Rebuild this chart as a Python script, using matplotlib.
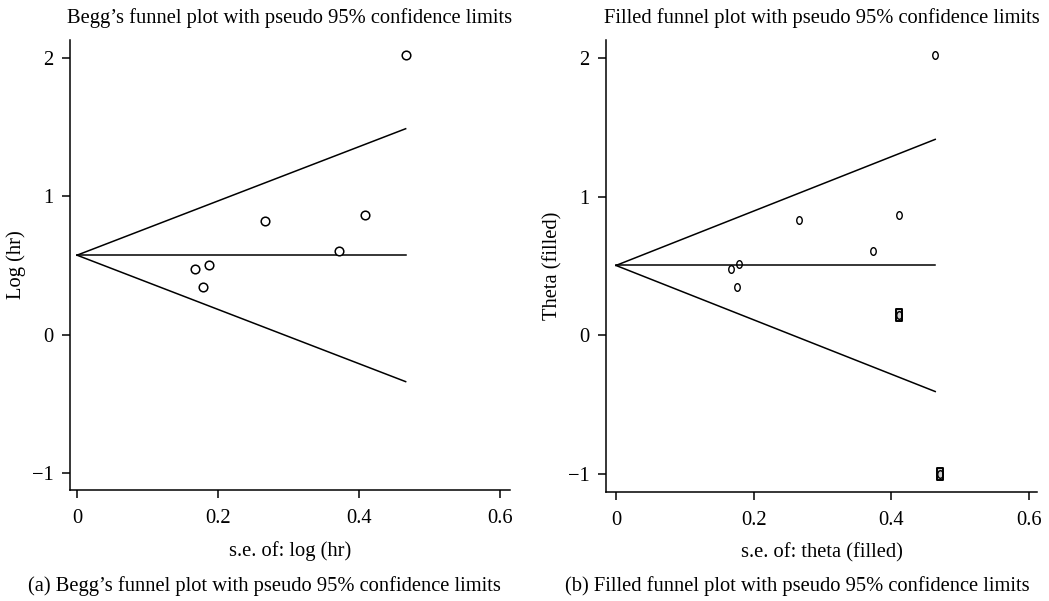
import numpy as np
import matplotlib
matplotlib.use("Agg")
import matplotlib.pyplot as plt
from matplotlib.path import Path
from matplotlib.transforms import Affine2D

# ── Study data ─────────────────────────────────────────────────────────────
# Begg's plot: standard error vs log hazard ratio for each study
se_begg = [0.167, 0.178, 0.187, 0.266, 0.371, 0.408, 0.466]
loghr_begg = [0.479, 0.347, 0.504, 0.824, 0.605, 0.866, 2.025]
pooled_begg = 0.576

# Trim-and-fill: observed studies plus the two imputed ones
se_obs = [0.167, 0.176, 0.179, 0.266, 0.374, 0.411, 0.464]
theta_obs = [0.477, 0.350, 0.518, 0.832, 0.606, 0.868, 2.025]
se_fill = [0.412, 0.471]
theta_fill = [0.145, -1.0]
pooled_fill = 0.504

Z95 = 1.96
FS = 14.8

plt.rcParams["font.family"] = ["Liberation Serif", "DejaVu Serif"]
plt.rcParams["font.size"] = FS

# Small upright "o" marker and a tall box marker for the filled studies
oval = Path.unit_circle().transformed(Affine2D().scale(0.72, 1.0))
box = Path([(-0.62, -1), (0.62, -1), (0.62, 1), (-0.62, 1), (-0.62, -1)],
           [Path.MOVETO, Path.LINETO, Path.LINETO, Path.LINETO, Path.CLOSEPOLY])

fig = plt.figure(figsize=(10.49, 6.01), dpi=100)
ax1 = fig.add_axes([0.0667, 0.1847, 0.4195, 0.7487])
ax2 = fig.add_axes([0.5777, 0.1814, 0.4109, 0.7520])


def funnel(ax, pooled, se_max):
    """Pseudo 95% limits and the pooled estimate line."""
    ax.plot([0, se_max], [pooled, pooled + Z95 * se_max], color="black", lw=1.1)
    ax.plot([0, se_max], [pooled, pooled - Z95 * se_max], color="black", lw=1.1)
    ax.plot([0, se_max], [pooled, pooled], color="black", lw=1.1)


def style(ax, xlim, ylim, xlabel, ylabel, title):
    for side in ("top", "right"):
        ax.spines[side].set_visible(False)
    for side in ("left", "bottom"):
        ax.spines[side].set_linewidth(1.1)
    ax.set_xlim(*xlim)
    ax.set_ylim(*ylim)
    ax.set_xticks([0, 0.2, 0.4, 0.6])
    ax.set_xticklabels(["0", "0.2", "0.4", "0.6"])
    ax.set_yticks([-1, 0, 1, 2])
    ax.tick_params(direction="out", length=6, width=1.1, pad=6)
    ax.tick_params(axis="x", pad=8)
    ax.set_xlabel(xlabel, labelpad=9)
    ax.set_ylabel(ylabel, labelpad=4)
    ax.set_title(title, pad=12, fontsize=FS)


# (a) Begg's funnel plot
funnel(ax1, pooled_begg, max(se_begg))
ax1.plot(se_begg, loghr_begg, linestyle="none", marker="o", markersize=6.2,
         markerfacecolor="white", markeredgecolor="black", markeredgewidth=1.1)
style(ax1, (-0.010, 0.614), (-1.12, 2.13), "s.e. of: log (hr)", "Log (hr)",
      "Begg\u2019s funnel plot with pseudo 95% confidence limits")

# (b) Filled funnel plot
funnel(ax2, pooled_fill, max(se_obs))
ax2.plot(se_fill, theta_fill, linestyle="none", marker=box, markersize=8,
         markerfacecolor="#d0d0d0", markeredgecolor="black", markeredgewidth=1.4)
ax2.plot(se_obs + se_fill, theta_obs + theta_fill, linestyle="none",
         marker=oval, markersize=5.5, markerfacecolor="none",
         markeredgecolor="black", markeredgewidth=1.0)
style(ax2, (-0.0145, 0.612), (-1.13, 2.13), "s.e. of: theta (filled)",
      "Theta (filled)", "Filled funnel plot with pseudo 95% confidence limits")

fig.text(0.2517, 0.017, "(a) Begg\u2019s funnel plot with pseudo 95% confidence limits",
         ha="center", va="baseline", fontsize=FS)
fig.text(0.760, 0.017, "(b) Filled funnel plot with pseudo 95% confidence limits",
         ha="center", va="baseline", fontsize=FS)

fig.savefig("out.png", dpi=100)
